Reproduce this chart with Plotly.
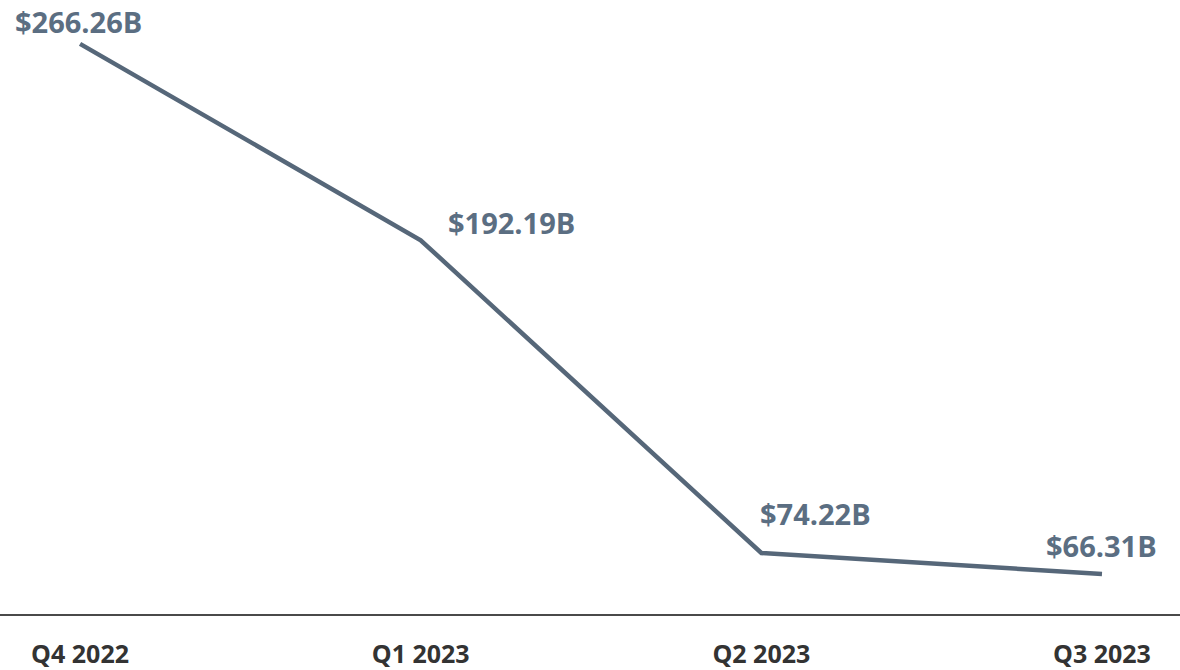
import plotly.graph_objects as go

quarters = ["Q4 2022", "Q1 2023", "Q2 2023", "Q3 2023"]
values = [266.26, 192.19, 74.22, 66.31]
labels = ["$266.26B", "$192.19B", "$74.22B", "$66.31B"]
label_shift_x = [-2, 91, 54, 0]
label_shift_y = [22, 18, 39, 28]

line_color = "#566779"
label_color = "#5b6e82"

fig = go.Figure()
fig.add_trace(go.Scatter(
    x=list(range(len(quarters))), y=values, mode="lines",
    line=dict(color=line_color, width=4.5),
    hoverinfo="skip", showlegend=False,
))

for i, (v, t) in enumerate(zip(values, labels)):
    fig.add_annotation(
        x=i, y=v, text=t, showarrow=False,
        xshift=label_shift_x[i], yshift=label_shift_y[i],
        font=dict(family="Open Sans", size=29, color=label_color, weight="bold"),
    )

fig.update_layout(
    width=1180, height=670,
    margin=dict(l=0, r=0, t=0, b=56),
    plot_bgcolor="white", paper_bgcolor="white",
    xaxis=dict(
        tickmode="array", tickvals=list(range(len(quarters))), ticktext=quarters,
        range=[-0.235, 3.229], showgrid=False, zeroline=False,
        showline=True, linecolor="#4a4a4a", linewidth=2,
        ticks="", ticklabelstandoff=17, automargin=False,
        tickfont=dict(family="Open Sans", size=25, color="#333333", weight="bold"),
    ),
    yaxis=dict(range=[51.2, 282.8], visible=False, showgrid=False, zeroline=False,
               automargin=False),
)

fig.write_html(
    "out.html",
    config={"displayModeBar": False},
    post_script="document.body.style.margin='0';document.body.style.padding='0';document.body.style.overflow='hidden';",
)
